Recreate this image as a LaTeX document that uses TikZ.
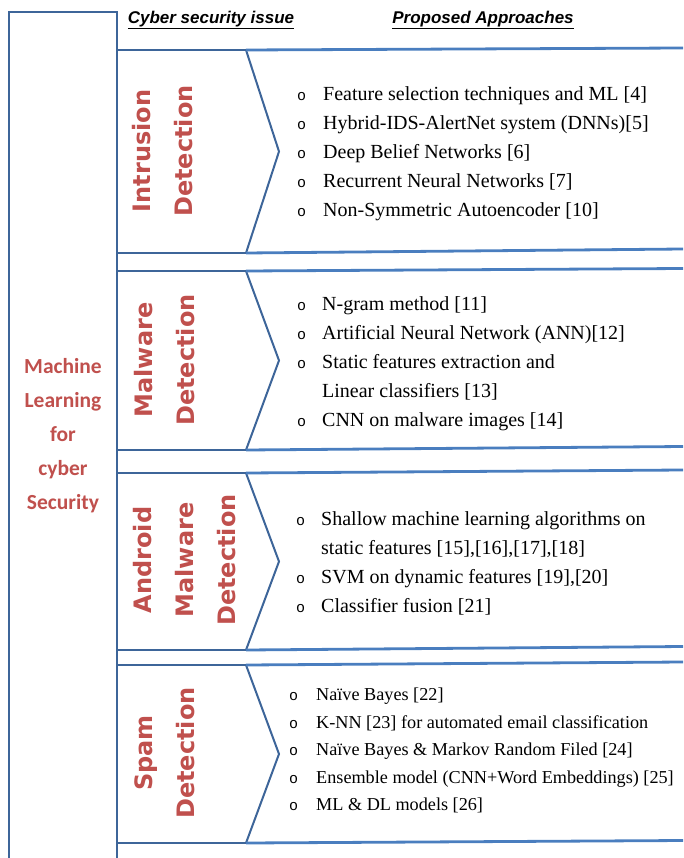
\documentclass[tikz,border=0pt]{standalone}
\usepackage{fontspec}
\setmainfont{Liberation Serif}
\newfontfamily\hdrfont{Liberation Sans}
\newfontfamily\labfont{DejaVu Sans}
\newfontfamily\mlfont{Carlito}
\newfontfamily\bulfont{Liberation Mono}

\definecolor{boxblue}{HTML}{3D6599}
\definecolor{lineblue}{HTML}{4A7EBF}
\definecolor{labred}{HTML}{C0504D}

\newcommand{\bul}{{\bulfont\fontsize{15}{15}\selectfont o}}

\tikzset{
  frame/.style={draw=boxblue, line width=2.8pt},
  rule/.style={draw=lineblue, line width=2.8pt},
  tip/.style={draw=boxblue, line width=2pt},
  head/.style={font=\hdrfont\bfseries\itshape\fontsize{17}{20}\selectfont},
  issue/.style={rotate=90, align=center, text=labred, inner sep=0pt,
    font=\labfont\bfseries\fontsize{24}{42}\selectfont},
  approach/.style={anchor=west, inner sep=0pt, font=\fontsize{20}{29}\selectfont},
}

\begin{document}
\begin{tikzpicture}[x=1pt,y=-1pt]
\useasboundingbox (0,0) rectangle (683,858);

% outer box
\draw[frame] (9,858) -- (9,12) -- (117,12) -- (117,858);

\node[head] (hdrissue) at (211,20) {\underline{Cyber security issue}};
\node[head] (hdrappr) at (483,20) {\underline{Proposed Approaches}};

\node[align=center, text=labred, font=\mlfont\bfseries\fontsize{21.5}{34}\selectfont]
  (mlcs) at (63,436) {Machine\\Learning\\for\\cyber\\Security};

% intrusion
\draw[frame] (117,50) -- (246,50);
\draw[frame] (117,253) -- (246,253);
\draw[tip] (246,50) -- (279,151.5) -- (246,253);
\draw[rule] (246,50) -- (683,48);
\draw[rule] (246,253) -- (683,249);
\node[issue] (intr) at (163,151) {Intrusion\\Detection};
\node[approach] (intrlist) at (297,153) {\begin{tabular}{@{}p{26pt}@{}l@{}}
\bul & Feature selection techniques and ML [4]\\
\bul & Hybrid-IDS-AlertNet system (DNNs)[5]\\
\bul & Deep Belief Networks [6]\\
\bul & Recurrent Neural Networks [7]\\
\bul & Non-Symmetric Autoencoder [10]
\end{tabular}};

% malware
\draw[frame] (117,271) -- (246,271);
\draw[frame] (117,450) -- (246,450);
\draw[tip] (246,271) -- (279,360.5) -- (246,450);
\draw[rule] (246,271) -- (683,268.5);
\draw[rule] (246,450) -- (683,446.5);
\node[issue] (malw) at (165,360) {Malware\\Detection};
\node[approach] (malwlist) at (297,363) {\begin{tabular}{@{}p{25pt}@{}l@{}}
\bul & N-gram method [11]\\
\bul & Artificial Neural Network (ANN)[12]\\
\bul & Static features extraction and\\
 & Linear classifiers [13]\\
\bul & CNN on malware images [14]
\end{tabular}};

% android
\draw[frame] (117,473) -- (246,473);
\draw[frame] (117,650) -- (246,650);
\draw[tip] (246,473) -- (279,561.5) -- (246,650);
\draw[rule] (246,473) -- (683,470);
\draw[rule] (246,650) -- (683,646.5);
\node[issue] (andr) at (185,560) {Android\\Malware\\Detection};
\node[approach] (andrlist) at (296,563) {\begin{tabular}{@{}p{25pt}@{}l@{}}
\bul & Shallow machine learning algorithms on\\
 & static features [15],[16],[17],[18]\\
\bul & SVM on dynamic features [19],[20]\\
\bul & Classifier fusion [21]
\end{tabular}};

% spam
\draw[frame] (117,665) -- (246,665);
\draw[frame] (117,843) -- (246,843);
\draw[tip] (246,665) -- (279,754) -- (246,843);
\draw[rule] (246,665) -- (683,662);
\draw[rule] (246,843) -- (683,840.5);
\node[issue] (spam) at (165,753) {Spam\\Detection};
\node[approach, font=\fontsize{18.2}{27.5}\selectfont] (spamlist) at (289,750) {\begin{tabular}{@{}p{27pt}@{}l@{}}
\bul & Naïve Bayes [22]\\
\bul & K-NN [23] for automated email classification\\
\bul & Naïve Bayes \& Markov Random Filed [24]\\
\bul & Ensemble model (CNN+Word Embeddings) [25]\\
\bul & ML \& DL models [26]
\end{tabular}};

\end{tikzpicture}
\end{document}
